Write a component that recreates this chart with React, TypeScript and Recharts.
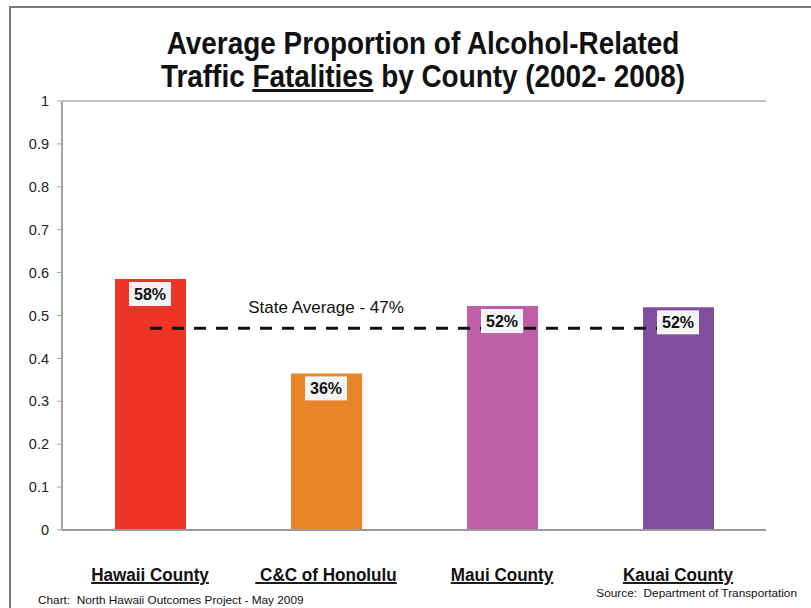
import React from 'react';
import {
  ComposedChart, Bar, Line, XAxis, YAxis, Cell, LabelList, ReferenceLine,
} from 'recharts';

const counties = ['Hawaii County', '\u00a0C&C of Honolulu', 'Maui County', 'Kauai County'];
const proportions = [0.585, 0.365, 0.522, 0.519];
const valueLabels = ['58%', '36%', '52%', '52%'];
const stateAverage = 0.47;
const stateAverageLabel = 'State Average - 47%';
const barColors = ['#EE3425', '#E98526', '#BF5FA5', '#7F4F9E'];
const yTicks = [0, 0.1, 0.2, 0.3, 0.4, 0.5, 0.6, 0.7, 0.8, 0.9, 1];

const data = counties.map((c, i) => ({
  county: c,
  value: proportions[i],
  avg: stateAverage,
  label: valueLabels[i],
}));

const FONT = '"Liberation Sans", Arial, Helvetica, sans-serif';

const XTick = (props: any) => {
  const { x, y, payload } = props;
  return (
    <g transform={`translate(${x},${y}) scale(0.9,1)`}>
      <text
        x={0}
        y={0}
        textAnchor="middle"
        fontFamily={FONT}
        fontWeight="bold"
        fontSize={19}
        fill="#111"
        style={{ textDecoration: 'underline', whiteSpace: 'pre' }}
      >
        {payload.value}
      </text>
    </g>
  );
};

const ValueBox = (props: any) => {
  const { x, y, index } = props;
  if (x == null || y == null) return null;
  const w = 42;
  const h = 24;
  return (
    <g>
      <rect x={x - w / 2} y={y + 3} width={w} height={h} fill="#F3F4F4" />
      <text
        x={x}
        y={y + 21}
        textAnchor="middle"
        fontFamily={FONT}
        fontWeight="bold"
        fontSize={16}
        fill="#111"
      >
        {valueLabels[index]}
      </text>
    </g>
  );
};

const AvgText = (props: any) => {
  const { x, y, index } = props;
  if (index !== 1 || x == null || y == null) return null;
  return (
    <text
      x={x}
      y={y - 15}
      textAnchor="middle"
      fontFamily={FONT}
      fontSize={17}
      fill="#111"
    >
      {stateAverageLabel}
    </text>
  );
};

export default function App() {
  return (
    <div style={{ position: 'absolute', left: 0, top: 0, width: 811, height: 608, background: '#fff', overflow: 'hidden' }}>
      <div
        style={{
          position: 'absolute', left: 9, top: 6, width: 800, height: 620,
          borderLeft: '2px solid #7a7a7a', borderTop: '2px solid #7a7a7a', borderRight: '2px solid #7a7a7a',
        }}
      />
      <div
        style={{
          position: 'absolute', left: 0, top: 27, width: 846, textAlign: 'center',
          fontFamily: FONT, fontWeight: 'bold', fontSize: 31, lineHeight: '33px', color: '#111',
          transform: 'scale(0.9, 1)', transformOrigin: '423px 0px', whiteSpace: 'nowrap',
        }}
      >
        <div>Average Proportion of Alcohol-Related</div>
        <div>
          Traffic <span style={{ textDecoration: 'underline' }}>Fatalities</span> by County (2002- 2008)
        </div>
      </div>
      <div style={{ position: 'absolute', left: 0, top: 0 }}>
        <ComposedChart
          width={811}
          height={608}
          data={data}
          margin={{ top: 101, right: 45, bottom: 18, left: 0 }}
        >
          <ReferenceLine y={1} stroke="#c4c4c4" strokeWidth={2} />
          <XAxis
            dataKey="county"
            height={60}
            axisLine={{ stroke: '#9a9a9a', strokeWidth: 2 }}
            tickLine={false}
            tick={<XTick />}
            tickMargin={45}
            interval={0}
          />
          <YAxis
            domain={[0, 1]}
            ticks={yTicks}
            width={62}
            interval={0}
            axisLine={{ stroke: '#a4a4a4', strokeWidth: 2 }}
            tickLine={{ stroke: '#a4a4a4' }}
            tickSize={5}
            tickMargin={8}
            tick={{ fontFamily: FONT, fontSize: 14.5, fill: '#222' }}
          />
          <YAxis
            yAxisId="right"
            orientation="right"
            domain={[0, 1]}
            width={0}
            tick={false}
            tickLine={false}
            axisLine={{ stroke: '#c4c4c4', strokeWidth: 2 }}
          />
          <Bar dataKey="value" barSize={71} isAnimationActive={false}>
            {data.map((d, i) => (
              <Cell key={d.county} fill={barColors[i]} />
            ))}
          </Bar>
          <Line
            dataKey="avg"
            stroke="#111"
            strokeWidth={3}
            strokeDasharray="12 10"
            dot={false}
            activeDot={false}
            isAnimationActive={false}
          >
            <LabelList dataKey="avg" content={<AvgText />} />
          </Line>
          <Line
            dataKey="value"
            stroke="none"
            dot={false}
            activeDot={false}
            isAnimationActive={false}
          >
            <LabelList dataKey="value" content={<ValueBox />} />
          </Line>
        </ComposedChart>
      </div>
      <div
        style={{
          position: 'absolute', left: 38, top: 593, fontFamily: FONT, fontSize: 11.8, color: '#111', whiteSpace: 'pre',
        }}
      >
        {'Chart:  North Hawaii Outcomes Project - May 2009'}
      </div>
      <div
        style={{
          position: 'absolute', right: 14, top: 586, fontFamily: FONT, fontSize: 11.8, color: '#111', whiteSpace: 'pre',
        }}
      >
        {'Source:  Department of Transportation'}
      </div>
    </div>
  );
}
